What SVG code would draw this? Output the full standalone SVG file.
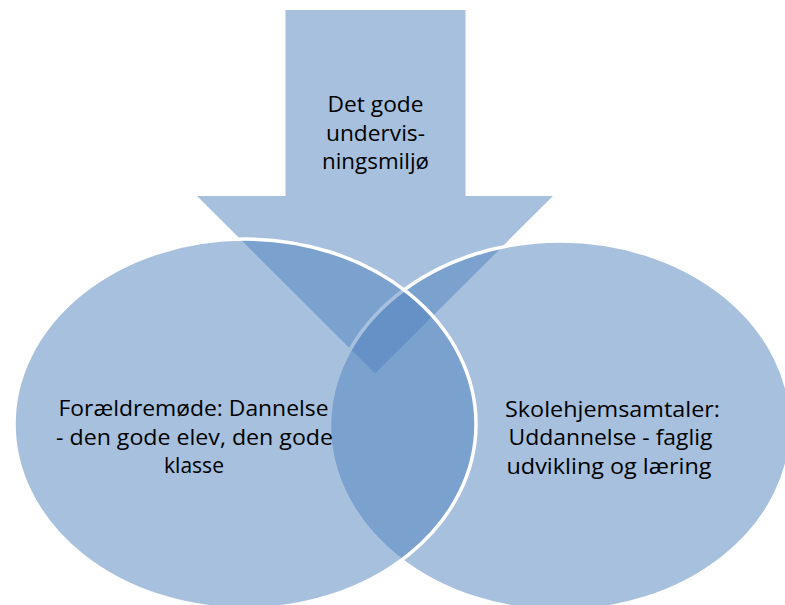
<svg xmlns="http://www.w3.org/2000/svg" width="785" height="605" viewBox="0 0 785 605">
  <style>
    .shape { fill: #4F81BD; fill-opacity: 0.5; }
    .ring { stroke: #FFFFFF; stroke-width: 3.5; }
    .lbl { font-family: "Open Sans", "Liberation Sans", sans-serif; font-size: 21.5px; fill: #000000; text-anchor: middle; }
  </style>
  <rect x="0" y="0" width="785" height="605" fill="#FFFFFF"/>
  <g id="arrow">
    <polygon class="shape" points="285.5,10 465.5,10 465.5,196 553,196 375,373.5 197,196 285.5,196"/>
  </g>
  <g id="right-ellipse">
    <ellipse class="shape ring" cx="560.5" cy="426" rx="231" ry="185"/>
  </g>
  <g id="left-ellipse">
    <ellipse class="shape ring" cx="245" cy="424" rx="231" ry="185"/>
  </g>
  <g id="labels">
    <text class="lbl" x="375.5" y="112" textLength="96" lengthAdjust="spacingAndGlyphs">Det gode</text>
    <text class="lbl" x="375.5" y="141" textLength="99" lengthAdjust="spacingAndGlyphs">undervis-</text>
    <text class="lbl" x="375.5" y="169" textLength="107" lengthAdjust="spacingAndGlyphs">ningsmiljø</text>
    <text class="lbl" x="193.5" y="416" textLength="270" lengthAdjust="spacingAndGlyphs">Forældremøde: Dannelse</text>
    <text class="lbl" x="194.5" y="444.5" textLength="277" lengthAdjust="spacingAndGlyphs">- den gode elev, den gode</text>
    <text class="lbl" x="194" y="473" textLength="60" lengthAdjust="spacingAndGlyphs">klasse</text>
    <text class="lbl" x="612.5" y="416.5" textLength="215" lengthAdjust="spacingAndGlyphs">Skolehjemsamtaler:</text>
    <text class="lbl" x="610.5" y="445" textLength="204" lengthAdjust="spacingAndGlyphs">Uddannelse - faglig</text>
    <text class="lbl" x="609" y="473.5" textLength="205" lengthAdjust="spacingAndGlyphs">udvikling og læring</text>
  </g>
</svg>
